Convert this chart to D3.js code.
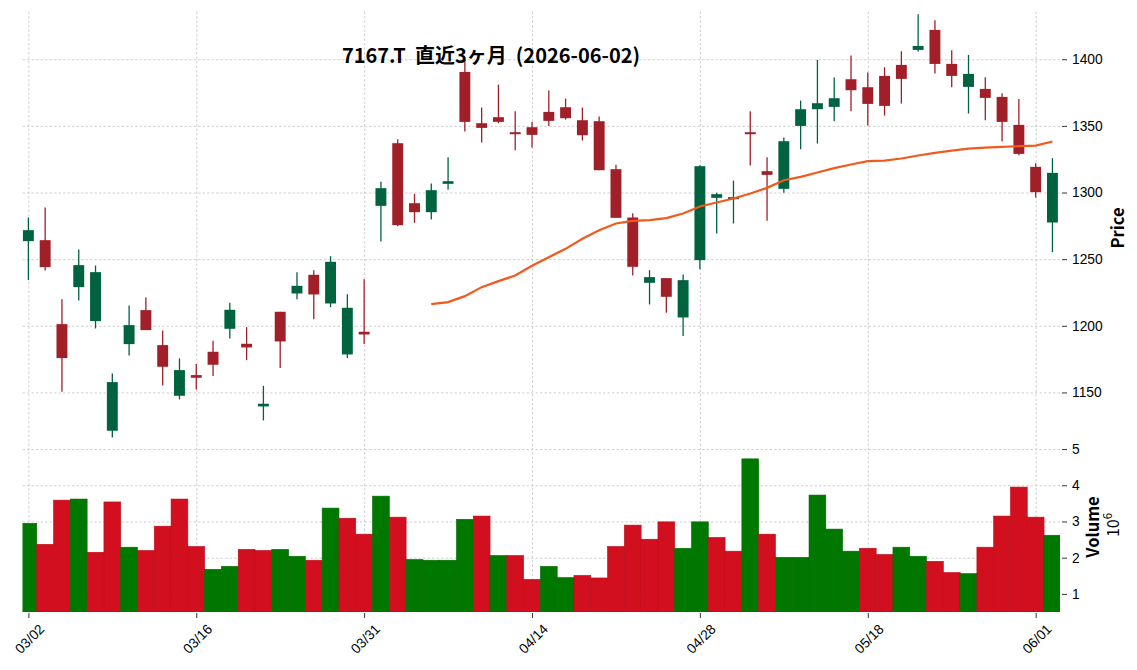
<!DOCTYPE html>
<html>
<head>
<meta charset="utf-8">
<script src="https://cdn.jsdelivr.net/npm/d3@7"></script>
<style>
  body { margin: 0; background: #fff; }
  svg { display: block; font-family: "Noto Sans CJK JP", "Noto Sans", sans-serif; }
  .grid line { stroke: #c4c4c4; stroke-width: 0.8; stroke-dasharray: 2.5,2; }
  .grid .domain { display: none; }
  .axis .domain { display: none; }
  .axis text { font-size: 13.8px; fill: #000; }
  .axis line { stroke: #000; stroke-width: 0.8; }
</style>
</head>
<body>
<div id="chart"></div>
<script>
// trading days (2026)
const dates = ["03/02","03/03","03/04","03/05","03/06","03/09","03/10","03/11","03/12","03/13",
  "03/16","03/17","03/18","03/19","03/23","03/24","03/25","03/26","03/27","03/30",
  "03/31","04/01","04/02","04/03","04/06","04/07","04/08","04/09","04/10","04/13",
  "04/14","04/15","04/16","04/17","04/20","04/21","04/22","04/23","04/24","04/27",
  "04/28","04/30","05/01","05/07","05/08","05/11","05/12","05/13","05/14","05/15",
  "05/18","05/19","05/20","05/21","05/22","05/25","05/26","05/27","05/28","05/29",
  "06/01","06/02"];

const opens = [1263.5,1264.25,1201.25,1229,1203.5,1121.25,1186.25,1211.75,1185.5,1147.5,
  1163,1180.5,1197.75,1186.5,1139.5,1210.5,1224.25,1238.25,1216.75,1178.5,
  1195.5,1290,1337,1292,1285.25,1306.5,1390.5,1352,1356.5,1345.25,
  1349,1360.5,1364,1354.25,1353.5,1317.5,1281.25,1232.25,1235.75,1206.25,
  1249.25,1296,1295.25,1345.25,1316,1302.75,1350,1362.5,1364.25,1385,
  1379,1387.5,1395.75,1407,1422,1396.5,1379.25,1377.75,1371.75,1350.75,
  1319.25,1277.5];

const highs = [1281.25,1288.75,1220,1257.25,1245.25,1164.25,1215.25,1221.25,1196.5,1175.5,
  1171.25,1188.75,1217.25,1199,1155,1210.5,1240.25,1241.75,1252.25,1223.75,
  1235,1308,1340,1299,1306.75,1326.5,1399.5,1363.75,1381,1361,
  1353,1376.5,1370.5,1363.75,1357,1320.75,1284.5,1241.75,1235.75,1238.5,
  1320.5,1299.75,1309,1361,1326.5,1341.25,1369,1399.5,1386.25,1402.75,
  1390,1394,1406,1433.75,1429.25,1406.75,1403.25,1386.5,1374.5,1370.25,
  1322,1325.75];

const lows = [1234.25,1241.5,1150.5,1219,1198,1116.25,1177.75,1196.75,1155.25,1144.75,
  1152.25,1162.25,1190.5,1174.25,1129,1168.25,1220,1205,1214,1175.75,
  1186.25,1263.25,1274.75,1277.25,1279.75,1302,1345.75,1337.5,1352,1331.75,
  1333.75,1350,1354.75,1339,1316.75,1281,1237.75,1216,1209.75,1192.25,
  1242.5,1269.25,1276.75,1320.25,1278.75,1299.75,1332.5,1336.75,1353.5,1361,
  1350.25,1357.75,1366.75,1405.75,1389.25,1379,1359.25,1354.25,1338.25,1328,
  1296.25,1255.25];

const closes = [1271.75,1244,1175.75,1245.5,1240.25,1157.75,1200.5,1196.75,1169.25,1166.75,
  1161,1170.75,1212,1183.75,1141.5,1188.25,1230,1223.5,1248,1213.5,
  1193.5,1303.25,1275.5,1285.25,1301.75,1308.5,1353,1348.5,1353,1344,
  1343.25,1353.75,1355.75,1343,1316.75,1281,1244.25,1236.5,1221.75,1234.25,
  1319.75,1298.75,1296.5,1344,1313.25,1338.5,1362.5,1367,1370.75,1376.75,
  1366.5,1365,1385.25,1410,1396.5,1387.5,1389,1371,1353,1329,
  1300.25,1314.75];

const volumes = [2950000,2370000,3590000,3620000,2150000,3540000,2290000,2200000,2870000,3620000,
  2310000,1680000,1760000,2230000,2200000,2230000,2040000,1930000,3370000,3090000,
  2650000,3700000,3120000,1950000,1930000,1930000,3060000,3150000,2060000,2060000,
  1400000,1760000,1450000,1510000,1440000,2310000,2900000,2510000,2990000,2260000,
  2990000,2560000,2180000,4730000,2650000,2010000,2010000,3730000,2790000,2180000,
  2260000,2090000,2290000,2040000,1900000,1590000,1560000,2290000,3150000,3950000,
  3120000,2620000];

// 25-day moving average as drawn (first 24 days empty)
const ma25 = [null,null,null,null,null,null,null,null,null,null,
  null,null,null,null,null,null,null,null,null,null,
  null,null,null,null,1216.25,1217.75,1222.25,1229,1233.5,1237.75,
  1245,1251.5,1257.75,1265.25,1271.75,1276.75,1278.75,1279.25,1280.75,1284.25,
  1289.5,1292.5,1295.5,1299.25,1303.5,1309.25,1311.75,1315,1318.25,1321,
  1323.5,1324,1325.5,1327.75,1329.75,1331.5,1333,1333.75,1334.25,1334.75,
  1335.25,1338.25];

const priceTicks = [1150, 1200, 1250, 1300, 1350, 1400];
const volumeTicks = [1, 2, 3, 4, 5];
const dateTickIdx = [0, 10, 20, 30, 40, 50, 60];

const title = "7167.T\u00a0\u00a0直近3ヶ月\u00a0\u00a0(2026-06-02)";

function createChart() {
    const width = 1137, height = 670;
    const plotLeft = 22.5, plotRight = 1060;
    const priceTop = 11, priceBottom = 446;
    const volTop = 448, volBottom = 612;

    const data = dates.map((d, i) => ({
        i, date: d, open: opens[i], high: highs[i], low: lows[i], close: closes[i],
        volume: volumes[i], ma: ma25[i]
    }));

    const svg = d3.select("#chart")
        .append("svg")
        .attr("width", width)
        .attr("height", height);

    const xScale = d3.scaleLinear()
        .domain([-0.35, dates.length - 0.55])
        .range([plotLeft, plotRight]);
    const step = xScale(1) - xScale(0);

    const yPrice = d3.scaleLinear()
        .domain([1109.8, 1436.2])
        .range([priceBottom, priceTop]);

    const yVol = d3.scaleLinear()
        .domain([0.5e6, 5.03e6])
        .range([volBottom, volTop]);

    svg.append("clipPath").attr("id", "clipVol")
        .append("rect").attr("x", plotLeft).attr("y", volTop)
        .attr("width", plotRight - plotLeft).attr("height", volBottom - volTop);

    // grids
    svg.append("g").attr("class", "grid")
        .attr("transform", `translate(0,${priceBottom})`)
        .call(d3.axisBottom(xScale).tickValues(dateTickIdx).tickSize(-(priceBottom - priceTop)).tickFormat(""));
    svg.append("g").attr("class", "grid")
        .attr("transform", `translate(0,${volBottom})`)
        .call(d3.axisBottom(xScale).tickValues(dateTickIdx).tickSize(-(volBottom - volTop)).tickFormat(""));
    svg.append("g").attr("class", "grid")
        .attr("transform", `translate(${plotLeft},0)`)
        .call(d3.axisRight(yPrice).tickValues(priceTicks).tickSize(plotRight - plotLeft).tickFormat(""));
    svg.append("g").attr("class", "grid")
        .attr("transform", `translate(${plotLeft},0)`)
        .call(d3.axisRight(yVol).tickValues(volumeTicks.map(v => v * 1e6)).tickSize(plotRight - plotLeft).tickFormat(""));

    // volume bars, coloured by close vs previous close
    const isUp = d => d.i === 0 || d.close >= closes[d.i - 1];
    svg.append("g").attr("clip-path", "url(#clipVol)")
        .selectAll("rect")
        .data(data)
        .enter()
        .append("rect")
        .attr("x", d => xScale(d.i) - step / 2)
        .attr("width", step)
        .attr("y", d => yVol(d.volume))
        .attr("height", d => volBottom - yVol(d.volume))
        .attr("fill", d => isUp(d) ? "#007800" : "#d20f1e")
        .attr("stroke", d => isUp(d) ? "#006a00" : "#b80d1a")
        .attr("stroke-width", 0.6);

    // candles
    const up = "#006340", down = "#a01f29";
    const candles = svg.append("g").selectAll("g")
        .data(data)
        .enter()
        .append("g");

    candles.append("line")
        .attr("x1", d => xScale(d.i))
        .attr("x2", d => xScale(d.i))
        .attr("y1", d => yPrice(d.high))
        .attr("y2", d => yPrice(d.low))
        .attr("stroke", d => d.close >= d.open ? up : down)
        .attr("stroke-width", 1.3);

    const bodyW = step * 0.65;
    candles.append("rect")
        .attr("x", d => xScale(d.i) - bodyW / 2)
        .attr("width", bodyW)
        .attr("y", d => yPrice(Math.max(d.open, d.close)))
        .attr("height", d => Math.max(2, Math.abs(yPrice(d.open) - yPrice(d.close))))
        .attr("fill", d => d.close >= d.open ? up : down);

    // moving average
    const line = d3.line()
        .defined(d => d.ma != null)
        .x(d => xScale(d.i))
        .y(d => yPrice(d.ma));

    svg.append("path")
        .datum(data)
        .attr("fill", "none")
        .attr("stroke", "#f05a1c")
        .attr("stroke-width", 2.2)
        .attr("d", line);

    // axes
    const axisX = 1062;
    svg.append("g").attr("class", "axis")
        .attr("transform", `translate(${axisX},0)`)
        .call(d3.axisRight(yPrice).tickValues(priceTicks).tickFormat(d3.format("d")).tickSize(5).tickPadding(5));

    svg.append("g").attr("class", "axis")
        .attr("transform", `translate(${axisX},0)`)
        .call(d3.axisRight(yVol).tickValues(volumeTicks.map(v => v * 1e6))
            .tickFormat(d => d / 1e6).tickSize(5).tickPadding(5));

    const xAxis = svg.append("g").attr("class", "axis")
        .attr("transform", `translate(0,${volBottom + 1})`)
        .call(d3.axisBottom(xScale).tickValues(dateTickIdx).tickFormat(i => dates[i]).tickSize(5));
    xAxis.selectAll("text")
        .attr("y", 0).attr("dy", 0)
        .attr("text-anchor", "middle")
        .attr("dominant-baseline", "central")
        .attr("transform", "translate(1,26) rotate(-45)");

    // labels
    svg.append("text")
        .attr("x", 491).attr("y", 63)
        .attr("text-anchor", "middle")
        .attr("font-size", 20).attr("font-weight", "bold")
        .text(title);

    svg.append("text")
        .attr("transform", "translate(1124,228) rotate(-90)")
        .attr("text-anchor", "middle")
        .attr("font-size", 16.5).attr("font-weight", "bold")
        .text("Price");

    svg.append("text")
        .attr("transform", "translate(1099,527) rotate(-90)")
        .attr("text-anchor", "middle")
        .attr("font-size", 16.5).attr("font-weight", "bold")
        .text("Volume");

    const off = svg.append("text")
        .attr("transform", "translate(1119,525) rotate(-90)")
        .attr("text-anchor", "middle")
        .attr("font-size", 16);
    off.append("tspan").text("10");
    off.append("tspan").attr("dy", -7).attr("font-size", 11.5).text("6");
}

createChart();
</script>
</body>
</html>
